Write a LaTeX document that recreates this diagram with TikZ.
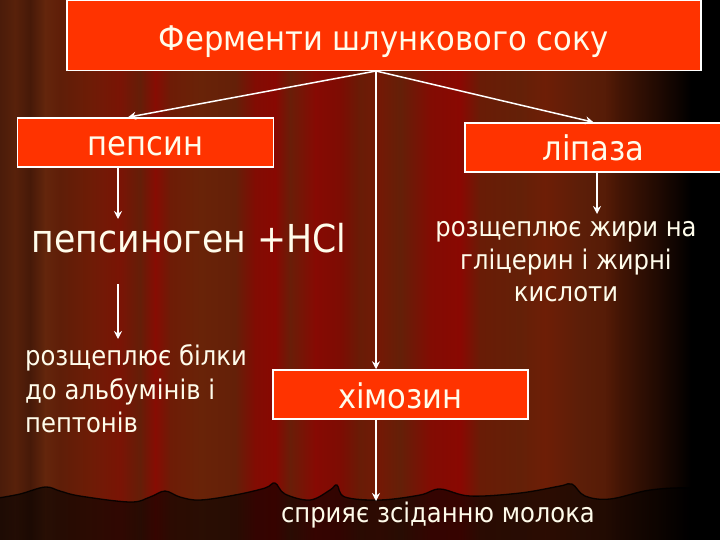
\documentclass[tikz,border=0pt]{standalone}
\usepackage{fontspec}
\setmainfont{DejaVu Sans Condensed}
\usetikzlibrary{arrows.meta,fadings}
\definecolor{boxred}{RGB}{255,51,0}
\definecolor{txt}{RGB}{255,252,235}
\definecolor{c00}{RGB}{75,28,10}
\definecolor{c01}{RGB}{88,33,10}
\definecolor{c02}{RGB}{70,25,8}
\definecolor{c03}{RGB}{100,38,12}
\definecolor{c04}{RGB}{95,30,8}
\definecolor{c05}{RGB}{110,28,6}
\definecolor{c06}{RGB}{122,20,5}
\definecolor{c07}{RGB}{100,30,8}
\definecolor{c08}{RGB}{135,12,3}
\definecolor{c09}{RGB}{110,28,6}
\definecolor{c10}{RGB}{105,35,8}
\definecolor{c11}{RGB}{100,32,8}
\definecolor{c12}{RGB}{130,12,3}
\definecolor{c13}{RGB}{136,8,2}
\definecolor{c14}{RGB}{105,30,8}
\definecolor{c15}{RGB}{135,10,3}
\definecolor{c16}{RGB}{125,12,3}
\definecolor{c17}{RGB}{105,28,6}
\definecolor{c18}{RGB}{115,25,5}
\definecolor{c19}{RGB}{100,32,8}
\definecolor{c20}{RGB}{130,12,3}
\definecolor{c21}{RGB}{138,8,2}
\definecolor{c22}{RGB}{105,28,6}
\definecolor{c23}{RGB}{100,32,8}
\definecolor{c24}{RGB}{110,30,6}
\definecolor{c25}{RGB}{92,30,8}
\definecolor{c26}{RGB}{82,26,6}
\tikzfading[name=fadeR, left color=transparent!100, right color=transparent!0]
\tikzset{
  boxnode/.style={draw=white, line width=1.5pt, fill=boxred, text=txt, inner sep=0pt,
    font=\fontsize{34}{40}\selectfont, text height=27pt, text depth=0pt},
  plain/.style={text=txt, inner sep=1pt},
  arr/.style={draw=white, line width=1.5pt, -{Stealth[length=8pt,width=8pt]}}
}
\begin{document}
\begin{tikzpicture}[x=1pt,y=-1pt]
\useasboundingbox (0,0) rectangle (720,540);
% curtain background
\shade[left color=c00,right color=c01] (0,0) rectangle (15.5,540);
\shade[left color=c01,right color=c02] (15,0) rectangle (30.5,540);
\shade[left color=c02,right color=c03] (30,0) rectangle (45.5,540);
\shade[left color=c03,right color=c04] (45,0) rectangle (60.5,540);
\shade[left color=c04,right color=c05] (60,0) rectangle (90.5,540);
\shade[left color=c05,right color=c06] (90,0) rectangle (120.5,540);
\shade[left color=c06,right color=c07] (120,0) rectangle (140.5,540);
\shade[left color=c07,right color=c08] (140,0) rectangle (155.5,540);
\shade[left color=c08,right color=c09] (155,0) rectangle (170.5,540);
\shade[left color=c09,right color=c10] (170,0) rectangle (200.5,540);
\shade[left color=c10,right color=c11] (200,0) rectangle (235.5,540);
\shade[left color=c11,right color=c12] (235,0) rectangle (255.5,540);
\shade[left color=c12,right color=c13] (255,0) rectangle (275.5,540);
\shade[left color=c13,right color=c14] (275,0) rectangle (290.5,540);
\shade[left color=c14,right color=c15] (290,0) rectangle (315.5,540);
\shade[left color=c15,right color=c16] (315,0) rectangle (340.5,540);
\shade[left color=c16,right color=c17] (340,0) rectangle (360.5,540);
\shade[left color=c17,right color=c18] (360,0) rectangle (380.5,540);
\shade[left color=c18,right color=c19] (380,0) rectangle (400.5,540);
\shade[left color=c19,right color=c20] (400,0) rectangle (430.5,540);
\shade[left color=c20,right color=c21] (430,0) rectangle (460.5,540);
\shade[left color=c21,right color=c22] (460,0) rectangle (480.5,540);
\shade[left color=c22,right color=c23] (480,0) rectangle (520.5,540);
\shade[left color=c23,right color=c24] (520,0) rectangle (545.5,540);
\shade[left color=c24,right color=c25] (545,0) rectangle (580.5,540);
\shade[left color=c25,right color=c26] (580,0) rectangle (620.5,540);
\fill[c26] (620,0) rectangle (720,540);
\fill[black, path fading=fadeR] (605,0) rectangle (692,540);
\fill[black] (691,0) rectangle (720,540);
% curtain hem
\fill[black, fill opacity=0.6] plot[smooth, tension=0.6] coordinates {(-2,498) (20,494) (45,487) (60,491) (80,496) (130,502) (150,497) (165,491) (180,497) (200,500) (235,495) (265,488) (275,483) (285,494) (310,500) (330,490) (337,485) (345,497) (380,500) (420,495) (440,489) (470,496) (520,493) (560,486) (572,484) (585,496) (610,499) (650,490) (690,488) (722,493)} -- (722,542) -- (-2,542) -- cycle;
\draw[black, line width=1.3pt, opacity=0.85] plot[smooth, tension=0.6] coordinates {(-2,498) (20,494) (45,487) (60,491) (80,496) (130,502) (150,497) (165,491) (180,497) (200,500) (235,495) (265,488) (275,483) (285,494) (310,500) (330,490) (337,485) (345,497) (380,500) (420,495) (440,489) (470,496) (520,493) (560,486) (572,484) (585,496) (610,499) (650,490) (690,488) (722,493)};
% nodes
\node[boxnode, minimum width=634pt, minimum height=70pt, text height=31pt] (top) at (384,35.5) {Ферменти шлункового соку};
\node[boxnode, minimum width=256pt, minimum height=49pt] (pepsin) at (145.5,142.5) {пепсин};
\node[boxnode, minimum width=257pt, minimum height=49pt] (lipase) at (593.5,147.5) {ліпаза};
\node[boxnode, minimum width=255pt, minimum height=49pt] (chym) at (400.5,394.5) {хімозин};
\node[plain, font=\fontsize{38.5}{44}\selectfont] (pg) at (189,238) {пепсиноген +HCl};
\node[plain, anchor=west, align=left, font=\fontsize{27}{33.5}\selectfont] (prot) at (24,389) {розщеплює білки\\до альбумінів і\\пептонів};
\node[plain, align=center, font=\fontsize{27}{32.5}\selectfont] (fat) at (566,262) {розщеплює жири на\\гліцерин і жирні\\кислоти};
\node[plain, font=\fontsize{27}{32}\selectfont] (milk) at (438,515) {сприяє зсіданню молока};
% connectors
\coordinate (hub) at (376,71);
\coordinate (px) at (118,0);
\coordinate (lx) at (597,0);
\coordinate (a1) at (118,284);
\coordinate (pgtop) at (118,219);
\coordinate (fattop) at (597,214);
\coordinate (prottop) at (118,339);
\coordinate (milktop) at (376,501);
\draw[arr] (hub) -- ([xshift=-17.5pt]pepsin.north);
\draw[arr] (hub) -- (lipase.north);
\draw[arr] (hub) -- (chym.north -| hub);
\draw[arr] (chym.south -| hub) -- (milktop);
\draw[arr] (pepsin.south -| px) -- (pgtop);
\draw[arr] (a1) -- (prottop);
\draw[arr] (lipase.south -| lx) -- (fattop);
\end{tikzpicture}
\end{document}
